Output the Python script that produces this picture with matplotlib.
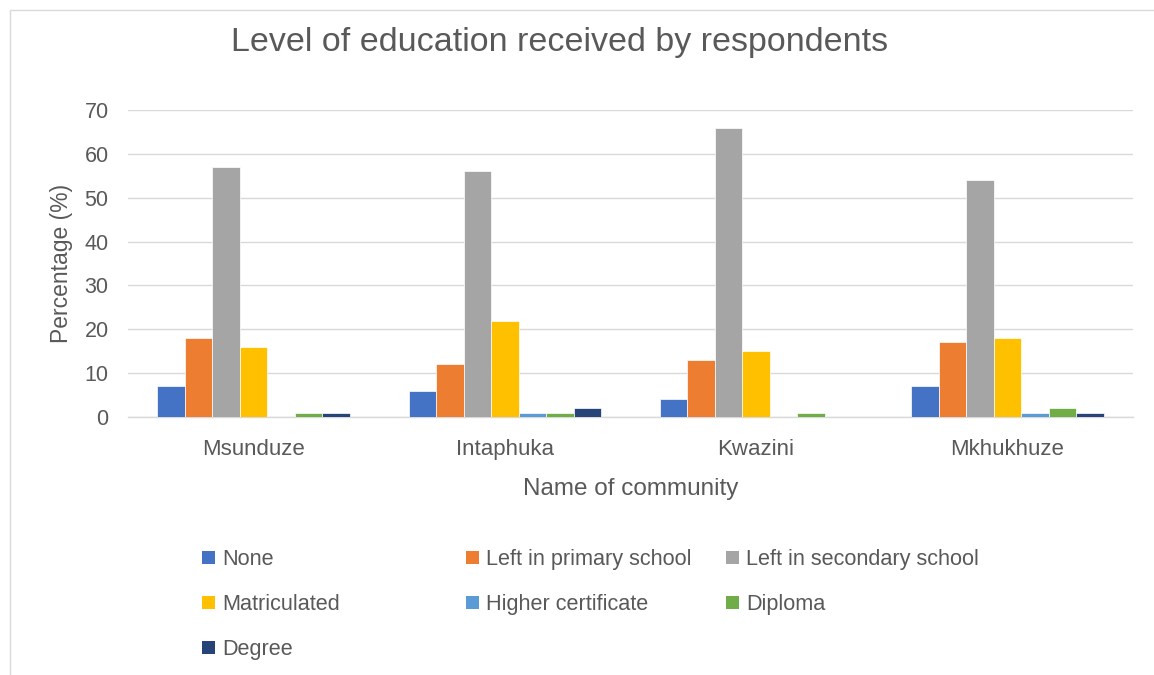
import matplotlib.pyplot as plt
from matplotlib.patches import Rectangle
import numpy as np

plt.rcParams['font.family'] = ['Liberation Sans', 'DejaVu Sans']

communities = ['Msunduze', 'Intaphuka', 'Kwazini', 'Mkhukhuze']
levels = ['None', 'Left in primary school', 'Left in secondary school',
          'Matriculated', 'Higher certificate', 'Diploma', 'Degree']

none_pct = [7, 6, 4, 7]
primary_pct = [18, 12, 13, 17]
secondary_pct = [57, 56, 66, 54]
matric_pct = [16, 22, 15, 18]
higher_cert_pct = [0, 1, 0, 1]
diploma_pct = [1, 1, 1, 2]
degree_pct = [1, 2, 0, 1]

series = [none_pct, primary_pct, secondary_pct, matric_pct,
          higher_cert_pct, diploma_pct, degree_pct]
colors = ['#4472C4', '#ED7D31', '#A5A5A5', '#FFC000',
          '#5B9BD5', '#70AD47', '#264478']

TEXT = '#595959'
GRID = '#d9d9d9'

fig = plt.figure(figsize=(11.54, 6.75), dpi=100)
ax = fig.add_axes([0.1109, 0.3822, 0.8709, 0.4548])

x = np.arange(len(communities))
width = 0.1095
for i, (vals, col) in enumerate(zip(series, colors)):
    offs = (i - 3) * width
    ax.bar(x + offs, vals, width=width, color=col, edgecolor='white',
           linewidth=0.5, zorder=3)

ax.set_xlim(-0.5, 3.5)
ax.set_ylim(0, 70)
ax.set_yticks(np.arange(0, 71, 10))
ax.set_xticks(x)
ax.set_xticklabels(communities)
ax.yaxis.grid(True, color=GRID, linewidth=1)
ax.set_axisbelow(True)
for s in ['top', 'right', 'left']:
    ax.spines[s].set_visible(False)
ax.spines['bottom'].set_color(GRID)
ax.spines['bottom'].set_linewidth(1)
ax.tick_params(axis='y', length=0, pad=14, labelsize=15.5, labelcolor=TEXT)
ax.tick_params(axis='x', length=0, pad=16, labelsize=16, labelcolor=TEXT)

ax.set_ylabel('Percentage (%)', fontsize=16.5, color=TEXT, labelpad=8)
ax.set_xlabel('Name of community', fontsize=17.5, color=TEXT, labelpad=13)

fig.text(560 / 1154, 1 - 42 / 675, 'Level of education received by respondents',
         fontsize=24.5, color=TEXT, ha='center', va='center')

# chart border, only top and left edges fall inside the image
fig.patches.append(Rectangle((10 / 1154, -0.1), 1.2, 1 - 10 / 675 + 0.1,
                             transform=fig.transFigure, fill=False,
                             edgecolor='#d9d9d9', linewidth=1))

# legend laid out in rows of three
col_x = [202, 466, 726]
row_y = [557, 602, 647]
for i, (lab, col) in enumerate(zip(levels, colors)):
    px = col_x[i % 3]
    py = row_y[i // 3]
    fig.patches.append(Rectangle((px / 1154, 1 - (py + 7) / 675), 13 / 1154, 13 / 675,
                                 transform=fig.transFigure, facecolor=col,
                                 edgecolor='none'))
    fig.text((px + 20) / 1154, 1 - py / 675, lab, fontsize=15.6, color=TEXT,
             ha='left', va='center_baseline')

fig.savefig('out.png', dpi=100, facecolor='white')
